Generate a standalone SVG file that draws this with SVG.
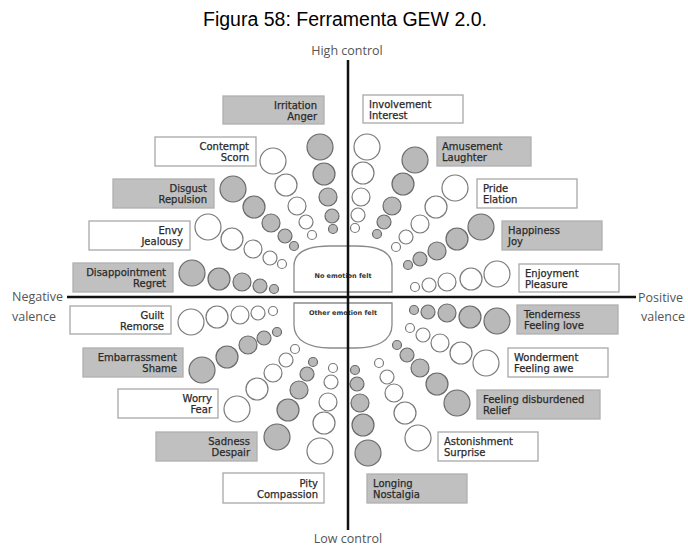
<svg xmlns="http://www.w3.org/2000/svg" width="688" height="548" viewBox="0 0 688 548">
<style>
.bg{fill:#ffffff}
.bw{fill:#ffffff;stroke:#a8a8a8;stroke-width:1.3}
.bg2{fill:#c0c0c0;stroke:#b0b0b0;stroke-width:1.3}
.cw{fill:#ffffff;stroke:#7a7a7a;stroke-width:1.2}
.cg{fill:#b9b9b9;stroke:#6a6a6a;stroke-width:1.2}
.t{font-family:"DejaVu Sans",Verdana,sans-serif;font-size:10px;fill:#2a2a2a;stroke:#2a2a2a;stroke-width:0.25}
.r{text-anchor:end}
.ax{font-family:"Open Sans","Liberation Sans",sans-serif;font-size:12.5px;fill:#555}
.c{font-family:"DejaVu Sans",sans-serif;font-weight:bold;font-size:6.5px;fill:#333;text-anchor:middle}
.ctr{fill:#ffffff;stroke:#8a8a8a;stroke-width:1.3}
.axis{stroke:#111;stroke-width:2.5;fill:none}
</style>
<rect class="bg" x="0" y="0" width="688" height="548"/>
<text x="345" y="26" font-family="Liberation Sans, Arial, sans-serif" font-size="19.5" fill="#000" text-anchor="middle">Figura 58: Ferramenta GEW 2.0.</text>
<text class="ax" x="347" y="55" text-anchor="middle">High control</text>
<text class="ax" x="348" y="543" text-anchor="middle">Low control</text>
<text class="ax" x="12" y="301">Negative</text>
<text class="ax" x="12" y="321">valence</text>
<text class="ax" x="638" y="302">Positive</text>
<text class="ax" x="641" y="321">valence</text>

<g id="center-no-emotion">
<path class="ctr" d="M294,292 V266 C294,251 310,246 330,246 H356 C376,246 392,251 392,266 V292 Z"/>
<text class="c" x="343" y="278">No emotion felt</text>
</g>
<g id="center-other-emotion">
<path class="ctr" d="M294,303 H392 V325 C392,341 376,348 356,348 H330 C310,348 294,341 294,325 Z"/>
<text class="c" x="343" y="315">Other emotion felt</text>
</g>

<g id="irritation-anger">
<rect class="bg2" x="223" y="96" width="101" height="28"/>
<text class="t r" x="317" y="109">Irritation</text><text class="t r" x="317" y="120">Anger</text>
<circle class="cg" cx="320" cy="147" r="13"/><circle class="cg" cx="324" cy="174" r="11"/><circle class="cg" cx="328" cy="197" r="9"/><circle class="cg" cx="332" cy="216" r="7"/><circle class="cg" cx="333" cy="229" r="4.5"/>
</g>
<g id="contempt-scorn">
<rect class="bw" x="155" y="137" width="101" height="29"/>
<text class="t r" x="249" y="150">Contempt</text><text class="t r" x="249" y="161">Scorn</text>
<circle class="cw" cx="273" cy="161" r="13"/><circle class="cw" cx="286" cy="185" r="11"/><circle class="cw" cx="297" cy="206" r="9"/><circle class="cw" cx="306" cy="222" r="7"/><circle class="cw" cx="312" cy="235" r="4.5"/>
</g>
<g id="disgust-repulsion">
<rect class="bg2" x="113" y="179" width="101" height="29"/>
<text class="t r" x="207" y="192">Disgust</text><text class="t r" x="207" y="203">Repulsion</text>
<circle class="cg" cx="233" cy="189" r="13"/><circle class="cg" cx="254" cy="207" r="11"/><circle class="cg" cx="271" cy="223" r="9"/><circle class="cg" cx="285" cy="236" r="7"/><circle class="cg" cx="294" cy="246" r="4.5"/>
</g>
<g id="envy-jealousy">
<rect class="bw" x="89" y="221" width="101" height="29"/>
<text class="t r" x="183" y="234">Envy</text><text class="t r" x="183" y="245">Jealousy</text>
<circle class="cw" cx="208" cy="227" r="13"/><circle class="cw" cx="232" cy="239" r="11"/><circle class="cw" cx="253" cy="249" r="9"/><circle class="cw" cx="270" cy="258" r="7"/><circle class="cw" cx="282" cy="264" r="4.5"/>
</g>
<g id="disappointment-regret">
<rect class="bg2" x="73" y="263" width="100" height="29"/>
<text class="t r" x="166" y="276">Disappointment</text><text class="t r" x="166" y="287">Regret</text>
<circle class="cg" cx="192" cy="273" r="13"/><circle class="cg" cx="219" cy="279" r="11"/><circle class="cg" cx="242" cy="282" r="9"/><circle class="cg" cx="260" cy="286" r="7"/><circle class="cg" cx="274" cy="289" r="4.5"/>
</g>

<g id="involvement-interest">
<rect class="bw" x="363" y="95" width="100" height="28"/>
<text class="t" x="369" y="108">Involvement</text><text class="t" x="369" y="119">Interest</text>
<circle class="cw" cx="367" cy="147" r="13"/><circle class="cw" cx="363" cy="173" r="11"/><circle class="cw" cx="361" cy="197" r="9"/><circle class="cw" cx="358" cy="215" r="7"/><circle class="cw" cx="355" cy="228" r="4.5"/>
</g>
<g id="amusement-laughter">
<rect class="bg2" x="437" y="137" width="94" height="29"/>
<text class="t" x="442" y="150">Amusement</text><text class="t" x="442" y="161">Laughter</text>
<circle class="cg" cx="415" cy="160" r="13"/><circle class="cg" cx="403" cy="184" r="11"/><circle class="cg" cx="392" cy="206" r="9"/><circle class="cg" cx="384" cy="222" r="7"/><circle class="cg" cx="377" cy="234" r="4.5"/>
</g>
<g id="pride-elation">
<rect class="bw" x="477" y="179" width="100" height="29"/>
<text class="t" x="483" y="192">Pride</text><text class="t" x="483" y="203">Elation</text>
<circle class="cw" cx="455" cy="188" r="13"/><circle class="cw" cx="436" cy="207" r="11"/><circle class="cw" cx="420" cy="224" r="9"/><circle class="cw" cx="406" cy="237" r="7"/><circle class="cw" cx="396" cy="247" r="4.5"/>
</g>
<g id="happiness-joy">
<rect class="bg2" x="502" y="221" width="100" height="29"/>
<text class="t" x="508" y="234">Happiness</text><text class="t" x="508" y="245">Joy</text>
<circle class="cg" cx="481" cy="227" r="13"/><circle class="cg" cx="457" cy="239" r="11"/><circle class="cg" cx="437" cy="251" r="9"/><circle class="cg" cx="420" cy="259" r="7"/><circle class="cg" cx="408" cy="265" r="4.5"/>
</g>
<g id="enjoyment-pleasure">
<rect class="bw" x="519" y="264" width="100" height="28"/>
<text class="t" x="525" y="277">Enjoyment</text><text class="t" x="525" y="288">Pleasure</text>
<circle class="cw" cx="497" cy="274" r="13"/><circle class="cw" cx="471" cy="279" r="11"/><circle class="cw" cx="447" cy="282" r="9"/><circle class="cw" cx="429" cy="285" r="7"/><circle class="cw" cx="415" cy="287" r="4.5"/>
</g>

<g id="guilt-remorse">
<rect class="bw" x="70" y="306" width="101" height="28"/>
<text class="t r" x="164" y="319">Guilt</text><text class="t r" x="164" y="330">Remorse</text>
<circle class="cw" cx="191" cy="322" r="13"/><circle class="cw" cx="217" cy="317" r="11"/><circle class="cw" cx="240" cy="315" r="9"/><circle class="cw" cx="258" cy="313" r="7"/><circle class="cw" cx="273" cy="311" r="4.5"/>
</g>
<g id="embarrassment-shame">
<rect class="bg2" x="83" y="348" width="100" height="29"/>
<text class="t r" x="177" y="361">Embarrassment</text><text class="t r" x="177" y="372">Shame</text>
<circle class="cg" cx="202" cy="370" r="13"/><circle class="cg" cx="227" cy="357" r="11"/><circle class="cg" cx="248" cy="345" r="9"/><circle class="cg" cx="264" cy="338" r="7"/><circle class="cg" cx="277" cy="332" r="4.5"/>
</g>
<g id="worry-fear">
<rect class="bw" x="118" y="389" width="100" height="29"/>
<text class="t r" x="212" y="402">Worry</text><text class="t r" x="212" y="413">Fear</text>
<circle class="cw" cx="237" cy="409" r="13"/><circle class="cw" cx="257" cy="389" r="11"/><circle class="cw" cx="273" cy="373" r="9"/><circle class="cw" cx="286" cy="360" r="7"/><circle class="cw" cx="295" cy="349" r="4.5"/>
</g>
<g id="sadness-despair">
<rect class="bg2" x="156" y="432" width="101" height="29"/>
<text class="t r" x="250" y="445">Sadness</text><text class="t r" x="250" y="456">Despair</text>
<circle class="cg" cx="277" cy="437" r="13"/><circle class="cg" cx="288" cy="410" r="11"/><circle class="cg" cx="299" cy="390" r="9"/><circle class="cg" cx="307" cy="374" r="7"/><circle class="cg" cx="313" cy="362" r="4.5"/>
</g>
<g id="pity-compassion">
<rect class="bw" x="223" y="473" width="101" height="30"/>
<text class="t r" x="318" y="487">Pity</text><text class="t r" x="318" y="498">Compassion</text>
<circle class="cw" cx="320" cy="451" r="13"/><circle class="cw" cx="324" cy="423" r="11"/><circle class="cw" cx="328" cy="402" r="9"/><circle class="cw" cx="331" cy="382" r="7"/><circle class="cw" cx="333" cy="368" r="4.5"/>
</g>

<g id="tenderness-love">
<rect class="bg2" x="517" y="305" width="101" height="29"/>
<text class="t" x="524" y="318">Tenderness</text><text class="t" x="524" y="329">Feeling love</text>
<circle class="cg" cx="497" cy="321" r="13"/><circle class="cg" cx="470" cy="317" r="11"/><circle class="cg" cx="447" cy="313" r="9"/><circle class="cg" cx="428" cy="312" r="7"/><circle class="cg" cx="414" cy="310" r="4.5"/>
</g>
<g id="wonderment-awe">
<rect class="bw" x="508" y="348" width="100" height="29"/>
<text class="t" x="514" y="361">Wonderment</text><text class="t" x="514" y="372">Feeling awe</text>
<circle class="cw" cx="486" cy="363" r="13"/><circle class="cw" cx="461" cy="353" r="11"/><circle class="cw" cx="440" cy="343" r="9"/><circle class="cw" cx="423" cy="335" r="7"/><circle class="cw" cx="410" cy="328" r="4.5"/>
</g>
<g id="disburdened-relief">
<rect class="bg2" x="477" y="390" width="123" height="29"/>
<text class="t" x="483" y="403">Feeling disburdened</text><text class="t" x="483" y="414">Relief</text>
<circle class="cg" cx="457" cy="403" r="13"/><circle class="cg" cx="437" cy="384" r="11"/><circle class="cg" cx="420" cy="368" r="9"/><circle class="cg" cx="407" cy="355" r="7"/><circle class="cg" cx="397" cy="345" r="4.5"/>
</g>
<g id="astonishment-surprise">
<rect class="bw" x="438" y="432" width="100" height="29"/>
<text class="t" x="444" y="445">Astonishment</text><text class="t" x="444" y="456">Surprise</text>
<circle class="cw" cx="418" cy="438" r="13"/><circle class="cw" cx="405" cy="413" r="11"/><circle class="cw" cx="394" cy="393" r="9"/><circle class="cw" cx="387" cy="377" r="7"/><circle class="cw" cx="379" cy="363" r="4.5"/>
</g>
<g id="longing-nostalgia">
<rect class="bg2" x="367" y="474" width="100" height="29"/>
<text class="t" x="373" y="487">Longing</text><text class="t" x="373" y="498">Nostalgia</text>
<circle class="cg" cx="368" cy="453" r="13"/><circle class="cg" cx="363" cy="425" r="11"/><circle class="cg" cx="360" cy="403" r="9"/><circle class="cg" cx="357" cy="384" r="7"/><circle class="cg" cx="355" cy="370" r="4.5"/>
</g>

<g id="axes">
<line class="axis" x1="67" y1="297" x2="636" y2="297"/>
<line class="axis" x1="348" y1="60" x2="348" y2="530"/>
</g>
</svg>
